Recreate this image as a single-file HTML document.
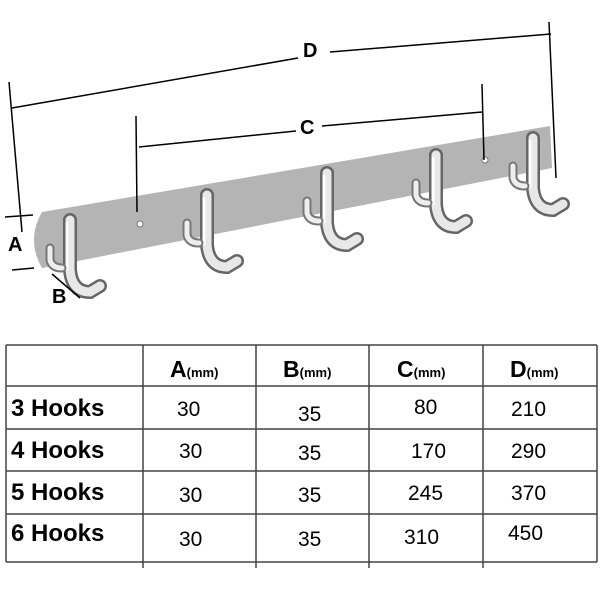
<!DOCTYPE html>
<html><head><style>
body{margin:0;background:#fff;width:600px;height:600px;overflow:hidden;font-family:"Liberation Sans",Arial,sans-serif}
svg{position:absolute;left:0;top:0}
.t{position:absolute;font-weight:bold}
</style></head><body>
<svg width="600" height="600">
<defs>
<linearGradient id="m" x1="0" x2="1"><stop offset="0" stop-color="#888"/><stop offset=".35" stop-color="#fff"/><stop offset=".7" stop-color="#aaa"/><stop offset="1" stop-color="#666"/></linearGradient>
<g id="h">
<path d="M0,0 L0,50 Q2,72 20,72 L30,66" fill="none" stroke="#666" stroke-width="14" stroke-linecap="round"/>
<path d="M0,0 L0,50 Q2,72 20,72 L30,66" fill="none" stroke="#e8e8e8" stroke-width="9" stroke-linecap="round"/>
<path d="M-3,2 L-3,50" fill="none" stroke="#fff" stroke-width="3"/>
<path d="M-20,28 L-20,40 Q-18,48 -8,48" fill="none" stroke="#777" stroke-width="9" stroke-linecap="round"/>
<path d="M-20,28 L-20,40 Q-18,48 -8,48" fill="none" stroke="#eee" stroke-width="5" stroke-linecap="round"/>
</g>
</defs>
<!-- bar -->
<path d="M42,212 L550,126 L552,168 L42,268 Q26,240 42,212Z" fill="#b4b4b4"/>
<circle cx="140" cy="224" r="3" fill="#fff" stroke="#777"/>
<circle cx="485" cy="160" r="3" fill="#fff" stroke="#777"/>
<use href="#h" x="70" y="220"/>
<use href="#h" x="207" y="195"/>
<use href="#h" x="327" y="173"/>
<use href="#h" x="436" y="155"/>
<use href="#h" x="533" y="138"/>
<!-- dimension lines -->
<g stroke="#000" stroke-width="1.5" fill="none">
<path d="M9,82 L22,232"/><path d="M12,108 L298,58"/><path d="M330,52 L551,34"/><path d="M549,22 L556,178"/>
<path d="M136,116 L137,212"/><path d="M139,147 L296,131"/><path d="M322,126 L482,112"/><path d="M482,84 L484,160"/>
<path d="M5,217 L33,215"/><path d="M12,270 L34,268"/>
<path d="M52,274 L80,298"/>
</g>
<!-- table -->
<g stroke="#444" stroke-width="1.5">
<line x1="6" y1="345" x2="597" y2="345"/>
<line x1="6" y1="386" x2="597" y2="386"/>
<line x1="6" y1="429" x2="597" y2="429"/>
<line x1="6" y1="471" x2="597" y2="471"/>
<line x1="6" y1="514" x2="597" y2="514"/>
<line x1="6" y1="562" x2="597" y2="562"/>
<line x1="6" y1="345" x2="6" y2="562"/>
<line x1="143" y1="345" x2="143" y2="568"/>
<line x1="256" y1="345" x2="256" y2="568"/>
<line x1="369" y1="345" x2="369" y2="568"/>
<line x1="483" y1="345" x2="483" y2="568"/>
<line x1="597" y1="345" x2="597" y2="562"/>
</g>
</svg>
<div class="t" style="left:303px;top:40px;font-size:20px">D</div>
<div class="t" style="left:300px;top:117px;font-size:20px">C</div>
<div class="t" style="left:8px;top:234px;font-size:20px">A</div>
<div class="t" style="left:52px;top:286px;font-size:20px">B</div>
<div class="t" style="left:170px;top:356px;font-size:23px">A<span style="font-size:13px">(mm)</span></div>
<div class="t" style="left:283px;top:356px;font-size:23px">B<span style="font-size:13px">(mm)</span></div>
<div class="t" style="left:397px;top:356px;font-size:23px">C<span style="font-size:13px">(mm)</span></div>
<div class="t" style="left:510px;top:356px;font-size:23px">D<span style="font-size:13px">(mm)</span></div>
<div class="t" style="left:11px;top:395px;font-size:24px">3 Hooks</div>
<div class="t" style="left:11px;top:437px;font-size:24px">4 Hooks</div>
<div class="t" style="left:11px;top:479px;font-size:24px">5 Hooks</div>
<div class="t" style="left:11px;top:520px;font-size:24px">6 Hooks</div>
<div style="position:absolute;font-size:21px;left:0;top:0">
<span style="position:absolute;left:177px;top:398px">30</span><span style="position:absolute;left:298px;top:403px">35</span><span style="position:absolute;left:414px;top:396px">80</span><span style="position:absolute;left:511px;top:398px">210</span>
<span style="position:absolute;left:179px;top:440px">30</span><span style="position:absolute;left:298px;top:442px">35</span><span style="position:absolute;left:411px;top:440px">170</span><span style="position:absolute;left:511px;top:440px">290</span>
<span style="position:absolute;left:179px;top:484px">30</span><span style="position:absolute;left:298px;top:484px">35</span><span style="position:absolute;left:408px;top:482px">245</span><span style="position:absolute;left:511px;top:482px">370</span>
<span style="position:absolute;left:179px;top:528px">30</span><span style="position:absolute;left:298px;top:528px">35</span><span style="position:absolute;left:404px;top:526px">310</span><span style="position:absolute;left:508px;top:522px">450</span>
</div>
</body></html>
